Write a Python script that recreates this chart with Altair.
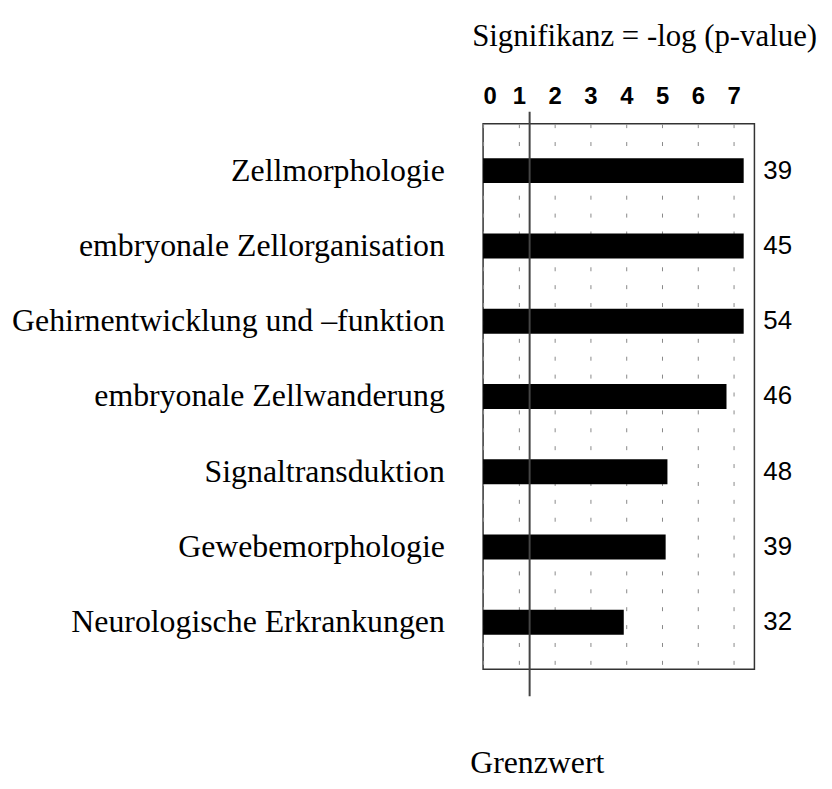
import altair as alt
import pandas as pd

categories = [
    "Zellmorphologie",
    "embryonale Zellorganisation",
    "Gehirnentwicklung und –funktion",
    "embryonale Zellwanderung",
    "Signaltransduktion",
    "Gewebemorphologie",
    "Neurologische Erkrankungen",
]
significance = [7.28, 7.28, 7.28, 6.8, 5.15, 5.1, 3.93]
counts = [39, 45, 54, 46, 48, 39, 32]
threshold = [1.3]
x_ticks = [0, 1, 2, 3, 4, 5, 6, 7]

df = pd.DataFrame({"category": categories, "value": significance, "count": counts})
df_thr = pd.DataFrame({"threshold": threshold})

W, H = 273, 549
SERIF = "Liberation Serif"
SANS = "Liberation Sans"

xscale = alt.Scale(domain=[0, 7.58], nice=False, zero=True)
yscale = alt.Scale(paddingInner=0.67, paddingOuter=0.46)

ysort = categories

top_axis = alt.Axis(
    orient="top", values=x_ticks, format="d",
    labelFont=SANS, labelFontSize=24, labelFontWeight="bold", labelColor="black",
    labelPadding=15, ticks=False, domain=False,
    grid=True, gridDash=[4, 14], gridColor="#888", gridWidth=1,
    title="Signifikanz = -log (p-value)", titleFont=SERIF, titleFontSize=31,
    titleFontWeight="normal", titleColor="black", titleX=162, titleY=-79,
    titleAlign="center", titleBaseline="alphabetic", titleAngle=0,
)

bottom_axis = alt.Axis(
    orient="bottom", labels=False, ticks=False, domain=False, grid=False,
    title="Grenzwert", titleFont=SERIF, titleFontSize=32, titleFontWeight="normal",
    titleColor="black", titleX=54, titleY=104, titleAlign="center",
    titleBaseline="alphabetic",
)

y_enc = alt.Y(
    "category:N", sort=ysort, scale=yscale,
    axis=alt.Axis(
        title=None, labelFont=SERIF, labelFontSize=32, labelColor="black",
        labelPadding=39, labelLimit=700, ticks=False, domain=False, grid=False,
    ),
)

bars = alt.Chart(df).mark_bar(color="black").encode(
    x=alt.X("value:Q", scale=xscale, axis=top_axis),
    y=y_enc,
)

nums = alt.Chart(df).mark_text(
    align="left", baseline="middle", font=SANS, fontSize=26, fontWeight="normal", color="black"
).encode(
    x=alt.value(W + 9),
    y=alt.Y("category:N", sort=ysort),
    text="count:Q",
)

rule = alt.Chart(df_thr).mark_rule(color="#444", strokeWidth=2).encode(
    x=alt.X("threshold:Q", scale=xscale, axis=bottom_axis),
    y=alt.value(-12),
    y2=alt.value(H + 27),
)

chart = (
    alt.layer(bars, nums, rule)
    .resolve_axis(x="independent")
    .properties(
        width=W, height=H,
        autosize=alt.AutoSizeParams(type="none"),
        padding={"left": 478, "top": 114, "right": 70, "bottom": 110},
    )
    .configure_view(stroke="#333", strokeWidth=1.5)
)

chart.save("out.html", embed_options={"renderer": "svg", "actions": False})
